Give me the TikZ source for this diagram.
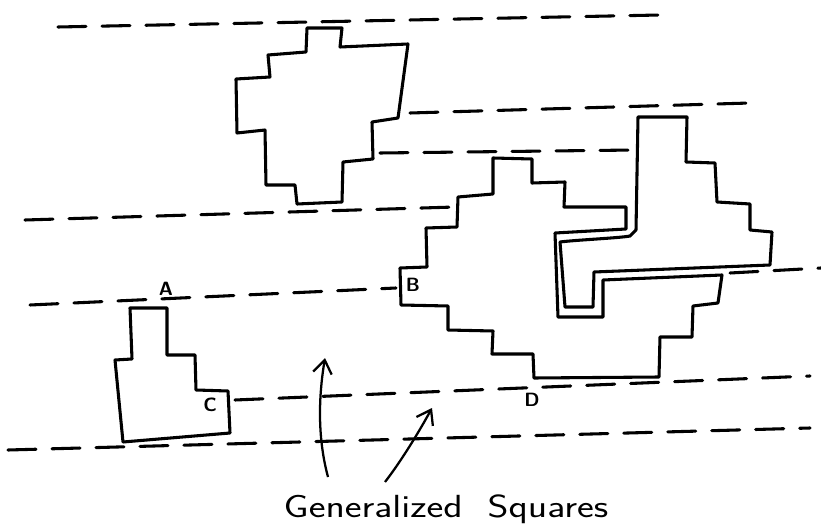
\documentclass[tikz,border=0pt]{standalone}
\usetikzlibrary{arrows.meta}
\begin{document}
\begin{tikzpicture}[x=0.75pt,y=-0.75pt,
  ink/.style={line width=2.3pt,line join=round,line cap=round},
  dashline/.style={line width=2.3pt,dash pattern=on 21pt off 12pt,line cap=round},
  lbl/.style={font=\sffamily\bfseries\Large,inner sep=0pt},
  pointer/.style={line width=1.7pt,-{Straight Barb[length=10pt,width=14pt,line width=1.7pt]}}]
\useasboundingbox (0,0) rectangle (821,527);
% dashed lines
\draw[dashline] (58,27) -- (660,15);
\draw[dashline] (410,113) -- (750,103);
\draw[dashline] (380,153) -- (635,150);
\draw[dashline] (25,220) -- (455,207);
\draw[dashline] (30,305) -- (396,288);
\draw[dashline] (730,273) -- (821,268);
\draw[dashline] (235,400) -- (810,376);
\draw[dashline] (8,450) -- (810,428);
% shape 1
\draw[ink] (307,28) -- (342,28) -- (340,47) -- (408,44) -- (398,118) -- (372,122)
  -- (373,159) -- (343,162) -- (342,202) -- (297,204) -- (295,185) -- (266,185)
  -- (265,130) -- (237,133) -- (236,79) -- (270,77) -- (268,55) -- (306,52) -- cycle;
% big shape
\draw[ink] (400,268) -- (427,267) -- (426,228) -- (457,227) -- (458,197) -- (493,194)
  -- (493,158) -- (532,159) -- (532,183) -- (565,182) -- (564,207) -- (626,207)
  -- (626,229) -- (555,233) -- (558,317) -- (603,317) -- (603,280) -- (722,275)
  -- (718,303) -- (693,306) -- (692,337) -- (660,337) -- (659,377) -- (534,378)
  -- (533,354) -- (492,354) -- (493,331) -- (448,330) -- (448,306) -- (401,305) -- cycle;
% inner L shape
\draw[ink] (638,117) -- (687,117) -- (686,162) -- (715,163) -- (717,202) -- (750,204)
  -- (750,230) -- (772,232) -- (770,265) -- (594,272) -- (593,307) -- (565,307)
  -- (560,242) .. controls (575,240) and (620,238) .. (630,236) -- (636,230) -- cycle;
% shape 3
\draw[ink] (130,308) -- (167,308) -- (167,355) -- (195,355) -- (196,390) -- (228,391)
  -- (230,433) -- (123,442) -- (115,360) -- (132,359) -- cycle;
% labels
\node[lbl] (A) at (166,289) {A};
\node[lbl] (B) at (413,285) {B};
\node[lbl] (C) at (210,405) {C};
\node[lbl] (D) at (532,400) {D};
\node[font=\sffamily\fontsize{24}{26}\selectfont,inner sep=0pt,anchor=base] (cap) at (446,517) {\scalebox{1.25}[1]{Generalized\ \ Squares}};
\coordinate (t1) at (325,358);
\coordinate (t2) at (432,408);
\coordinate (s1) at (328,477);
\coordinate (s2) at (385,482);
\draw[pointer] (s1) .. controls (318,440) and (318,400) .. (t1);
\draw[pointer] (s2) .. controls (402,460) and (420,430) .. (t2);
\end{tikzpicture}
\end{document}
